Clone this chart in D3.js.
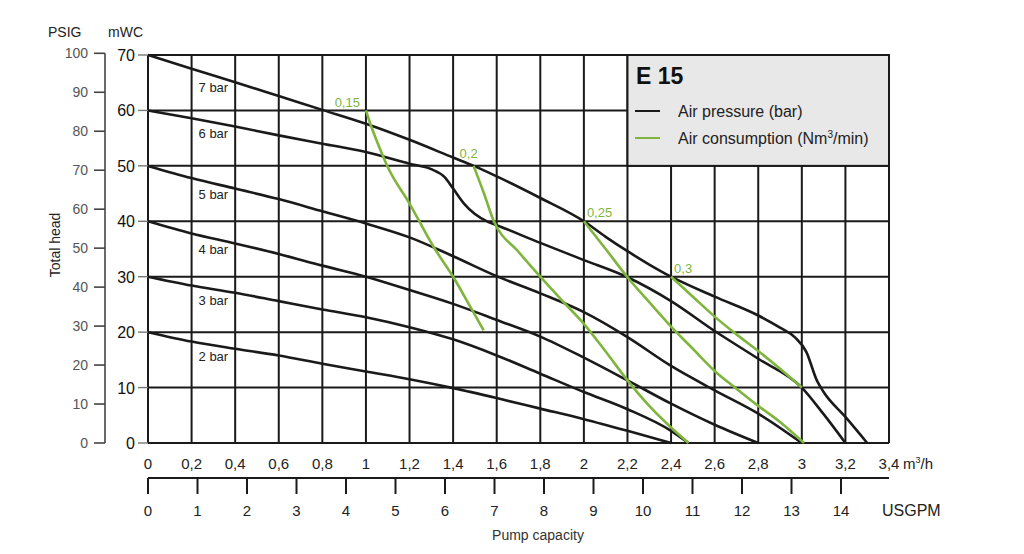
<!DOCTYPE html>
<html>
<head>
<meta charset="utf-8">
<script src="https://cdn.jsdelivr.net/npm/d3@7"></script>
<style>
  body { margin: 0; background: #fff; }
  svg { display: block; font-family: "Liberation Sans", Arial, sans-serif; }
</style>
</head>
<body>
<div id="chart"></div>
<script>
// tick values
var flowTicks = [0, 0.2, 0.4, 0.6, 0.8, 1, 1.2, 1.4, 1.6, 1.8, 2, 2.2, 2.4, 2.6, 2.8, 3, 3.2, 3.4];
var headTicks = [0, 10, 20, 30, 40, 50, 60, 70];
var psigTicks = [0, 10, 20, 30, 40, 50, 60, 70, 80, 90, 100];
var gpmTicks = [0, 1, 2, 3, 4, 5, 6, 7, 8, 9, 10, 11, 12, 13, 14];

// air pressure curves [m3/h, mWC]
var bar2 = [[0, 20], [0.2, 18.3], [0.4, 17], [0.6, 15.8], [0.8, 14.3], [1, 12.9], [1.2, 11.5], [1.4, 9.9],
  [1.6, 8.1], [1.8, 6.2], [2, 4.3], [2.2, 2.2], [2.4, 0]];
var bar3 = [[0, 30], [0.2, 28.4], [0.4, 27.1], [0.6, 25.6], [0.8, 24.1], [1, 22.7], [1.2, 20.9], [1.4, 18.7],
  [1.6, 15.8], [1.8, 12.5], [2, 9.2], [2.2, 6.1], [2.4, 2.2], [2.48, 0]];
var bar4 = [[0, 40], [0.2, 37.8], [0.4, 36], [0.6, 34.1], [0.8, 32], [1, 30], [1.2, 27.6], [1.4, 25.1],
  [1.6, 22.2], [1.8, 19.2], [2, 15.4], [2.2, 11.3], [2.4, 7.1], [2.6, 3.3], [2.8, 0]];
var bar5 = [[0, 50], [0.2, 47.8], [0.4, 45.9], [0.6, 44], [0.8, 41.8], [1, 39.6], [1.2, 37.1], [1.4, 33.7],
  [1.6, 30.1], [1.8, 27], [2, 23.6], [2.2, 19.1], [2.4, 13.9], [2.6, 9.5], [2.8, 5.3], [3, 0]];
var bar6 = [[0, 60], [0.2, 58.6], [0.4, 57.1], [0.6, 55.5], [0.8, 54], [1, 52.5], [1.2, 50.4], [1.3, 49.4],
  [1.36, 48], [1.4, 45.9], [1.45, 43.2], [1.5, 41.3], [1.56, 39.9], [1.6, 39.3], [1.8, 36.1], [2, 33],
  [2.2, 29.9], [2.4, 25.6], [2.6, 20.2], [2.8, 15.2], [3, 10], [3.1, 5.2], [3.2, 0]];
var bar7 = [[0, 70], [0.2, 67.5], [0.4, 65.1], [0.6, 62.6], [0.8, 60.1], [1, 57.6], [1.2, 54.7], [1.4, 51.5],
  [1.5, 49.9], [1.6, 48.1], [1.8, 44.2], [2, 40], [2.1, 37.2], [2.2, 34.6], [2.3, 32.2], [2.4, 30],
  [2.6, 26.4], [2.8, 23], [2.9, 20.8], [2.97, 19], [3.02, 16.5], [3.07, 11.2], [3.1, 9.2], [3.2, 4.7], [3.3, 0]];
var pressureNames = ["2 bar", "3 bar", "4 bar", "5 bar", "6 bar", "7 bar"];
var pressureCurves = [bar2, bar3, bar4, bar5, bar6, bar7];

// air consumption curves [m3/h, mWC]
var air015 = [[1, 60], [1.02, 57.6], [1.06, 53.5], [1.1, 49.8], [1.2, 43.2], [1.31, 35.4], [1.4, 30],
  [1.48, 24.5], [1.54, 20.3]];
var air020 = [[1.494, 50], [1.54, 45.2], [1.585, 40.2], [1.7, 34.5], [1.8, 30], [1.9, 25.7], [2, 21.5],
  [2.1, 16.5], [2.2, 11.3], [2.3, 6.7], [2.4, 2.8], [2.48, 0]];
var air025 = [[2, 40], [2.1, 35], [2.2, 29.9], [2.3, 25.4], [2.4, 21], [2.5, 17], [2.6, 13], [2.7, 9.8],
  [2.8, 6.7], [2.9, 3.8], [3.01, 0]];
var air030 = [[2.4, 30], [2.5, 26.4], [2.6, 22.8], [2.7, 19.6], [2.8, 16.6], [2.9, 13.4], [3, 10]];
var airNames = ["0,15", "0,2", "0,25", "0,3"];
var airCurves = [air015, air020, air025, air030];

var W = 1024, H = 554;
var green = "#7fb53c";
var ink = "#1a1a1a";

var x = d3.scaleLinear().domain([0, 3.4]).range([148, 889]);
var y = d3.scaleLinear().domain([0, 70]).range([443, 55]);
// 1 mWC = 1.42233 psi, 1 USGPM = 0.227125 m3/h
var yPsi = d3.scaleLinear().domain([0, 70 * 1.42233]).range([443, 55]);
var xGpm = d3.scaleLinear().domain([0, 3.4 / 0.227125]).range([148, 889]);

var comma = function(d) { return String(d).replace(".", ","); };

var svg = d3.select("#chart").append("svg")
  .attr("width", W)
  .attr("height", H);

svg.append("rect").attr("width", W).attr("height", H).attr("fill", "#fff");

// grid
var grid = svg.append("g").attr("stroke", ink).attr("stroke-width", 2);
grid.selectAll(".v").data(flowTicks).enter().append("line")
  .attr("x1", d => x(d)).attr("x2", d => x(d))
  .attr("y1", y(70)).attr("y2", y(0));
grid.selectAll(".h").data(headTicks).enter().append("line")
  .attr("x1", x(0)).attr("x2", x(3.4))
  .attr("y1", d => y(d)).attr("y2", d => y(d));

// legend box
var lg = svg.append("g");
lg.append("rect")
  .attr("x", x(2.2)).attr("y", y(70))
  .attr("width", x(3.4) - x(2.2)).attr("height", y(50) - y(70))
  .attr("fill", "#e8e8e8").attr("stroke", ink).attr("stroke-width", 2);
lg.append("text").attr("x", 636).attr("y", 84)
  .attr("font-size", 23).attr("font-weight", "bold").attr("fill", "#111").text("E 15");
lg.append("line").attr("x1", 635).attr("x2", 660).attr("y1", 111).attr("y2", 111)
  .attr("stroke", ink).attr("stroke-width", 2);
lg.append("line").attr("x1", 635).attr("x2", 660).attr("y1", 138).attr("y2", 138)
  .attr("stroke", green).attr("stroke-width", 2);
lg.append("text").attr("x", 678).attr("y", 117).attr("font-size", 16).attr("fill", "#222")
  .text("Air pressure (bar)");
var t2 = lg.append("text").attr("x", 678).attr("y", 144).attr("font-size", 16).attr("fill", "#222");
t2.append("tspan").text("Air consumption (Nm");
t2.append("tspan").attr("font-size", 10).attr("dy", -6).text("3");
t2.append("tspan").attr("dy", 6).text("/min)");

// curves
var line = d3.line()
  .x(d => x(d[0])).y(d => y(d[1]))
  .curve(d3.curveMonotoneX);

svg.append("g").selectAll("path").data(pressureCurves).enter().append("path")
  .attr("d", line)
  .attr("fill", "none").attr("stroke", ink).attr("stroke-width", 2.6);

svg.append("g").selectAll("path").data(airCurves).enter().append("path")
  .attr("d", line)
  .attr("fill", "none").attr("stroke", green).attr("stroke-width", 2.6);

// pressure labels, placed below each curve
function valueAt(curve, xv) {
  for (var i = 1; i < curve.length; i++) {
    if (curve[i][0] >= xv) {
      var a = curve[i - 1], b = curve[i];
      return a[1] + (b[1] - a[1]) * (xv - a[0]) / (b[0] - a[0]);
    }
  }
  return curve[curve.length - 1][1];
}
svg.append("g").selectAll("text").data(pressureNames).enter().append("text")
  .attr("x", x(0.232))
  .attr("y", (d, i) => y(valueAt(pressureCurves[i], 0.3)) + 16)
  .attr("font-size", 13).attr("fill", "#222")
  .text(d => d);

// air consumption labels at the start of each curve
var airDx = [-6, -14, 3, 3], airDy = [-3, -8, -4, -4], airAnchor = ["end", "start", "start", "start"];
svg.append("g").selectAll("text").data(airNames).enter().append("text")
  .attr("x", (d, i) => x(airCurves[i][0][0]) + airDx[i])
  .attr("y", (d, i) => y(airCurves[i][0][1]) + airDy[i])
  .attr("text-anchor", (d, i) => airAnchor[i])
  .attr("font-size", 13).attr("fill", green)
  .text(d => d);

// left axes
var axG = svg.append("g");
axG.append("line").attr("x1", 105).attr("x2", 105).attr("y1", yPsi(100)).attr("y2", yPsi(0))
  .attr("stroke", "#444").attr("stroke-width", 1.6);
axG.selectAll(".pt").data(psigTicks).enter().append("line")
  .attr("x1", 94).attr("x2", 105).attr("y1", d => yPsi(d)).attr("y2", d => yPsi(d))
  .attr("stroke", "#444").attr("stroke-width", 1.6);
axG.selectAll(".pl").data(psigTicks).enter().append("text")
  .attr("x", 88).attr("y", d => yPsi(d) + 5)
  .attr("text-anchor", "end").attr("font-size", 14).attr("fill", "#555")
  .text(d => d);
axG.selectAll(".mt").data(headTicks).enter().append("line")
  .attr("x1", 138).attr("x2", 148).attr("y1", d => y(d)).attr("y2", d => y(d))
  .attr("stroke", "#777").attr("stroke-width", 1.4);
axG.selectAll(".ml").data(headTicks).enter().append("text")
  .attr("x", 135).attr("y", d => y(d) + 6)
  .attr("text-anchor", "end").attr("font-size", 16).attr("fill", "#111")
  .text(d => d);
axG.append("text").attr("x", 48).attr("y", 37).attr("font-size", 14).attr("fill", "#222").text("PSIG");
axG.append("text").attr("x", 108).attr("y", 37).attr("font-size", 14).attr("fill", "#222").text("mWC");
axG.append("text")
  .attr("transform", "translate(60,245) rotate(-90)")
  .attr("text-anchor", "middle").attr("font-size", 14).attr("fill", "#222")
  .text("Total head");

// bottom axes
var bx = svg.append("g");
bx.selectAll(".fl").data(flowTicks).enter().append("text")
  .attr("x", d => x(d)).attr("y", 469)
  .attr("text-anchor", "middle").attr("font-size", 15).attr("fill", "#222")
  .text(d => comma(d));
var unit = bx.append("text").attr("x", 903).attr("y", 469).attr("font-size", 15).attr("fill", "#222");
unit.append("tspan").text("m");
unit.append("tspan").attr("font-size", 9).attr("dy", -6).text("3");
unit.append("tspan").attr("dy", 6).text("/h");

bx.append("line").attr("x1", x(0)).attr("x2", x(3.4)).attr("y1", 478).attr("y2", 478)
  .attr("stroke", ink).attr("stroke-width", 2);
bx.selectAll(".gt").data(gpmTicks).enter().append("line")
  .attr("x1", d => xGpm(d)).attr("x2", d => xGpm(d)).attr("y1", 478).attr("y2", 494)
  .attr("stroke", ink).attr("stroke-width", 2);
bx.selectAll(".gl").data(gpmTicks).enter().append("text")
  .attr("x", d => xGpm(d)).attr("y", 516)
  .attr("text-anchor", "middle").attr("font-size", 15).attr("fill", "#222")
  .text(d => d);
bx.append("text").attr("x", 882).attr("y", 516).attr("font-size", 16).attr("fill", "#222").text("USGPM");
bx.append("text").attr("x", 538).attr("y", 540).attr("text-anchor", "middle")
  .attr("font-size", 14).attr("fill", "#333").text("Pump capacity");
</script>
</body>
</html>
